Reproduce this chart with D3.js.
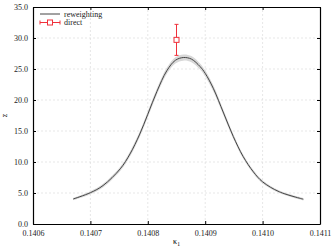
<!DOCTYPE html>
<html>
<head>
<meta charset="utf-8">
<script src="https://cdn.jsdelivr.net/npm/d3@7"></script>
<style>
  body { margin: 0; background: #fff; }
  text { font-family: "Liberation Serif", "DejaVu Serif", serif; }
  .grid line { stroke: #ddd; stroke-dasharray: 2,2; stroke-width: 0.7; }
</style>
</head>
<body>
<script>
// reweighting curve (kappa_1, z, error)
var kappaRew = [0.140670, 0.140700, 0.140722, 0.140752, 0.140769, 0.140786, 0.140800, 0.140816,
                0.140833, 0.140848, 0.140862, 0.140876, 0.140891, 0.140900, 0.140914, 0.140932, 0.140949,
                0.140966, 0.140984, 0.141000, 0.141029, 0.141071];
var zRew = [4.03, 5.05, 6.2, 8.9, 11.3, 14.5, 17.7, 21.4,
            24.7, 26.4, 26.85, 26.6, 25.4, 24.3, 21.9, 17.9, 14.1,
            10.9, 8.4, 6.8, 5.2, 4.0];
var zErr = [0.2, 0.25, 0.3, 0.35, 0.4, 0.45, 0.5, 0.5,
            0.5, 0.5, 0.5, 0.5, 0.5, 0.5, 0.5, 0.45, 0.4,
            0.35, 0.3, 0.25, 0.2, 0.2];

// direct measurement
var kappaDirect = [0.14085];
var zDirect = [29.7];
var zDirectErr = [2.5];

var xTicks = [0.1406, 0.1407, 0.1408, 0.1409, 0.1410, 0.1411];
var yTicks = [0, 5, 10, 15, 20, 25, 30, 35];

var width = 332, height = 249;
var margin = {left: 33, right: 12, top: 7, bottom: 25};

var svg = d3.select("body").append("svg")
    .attr("width", width)
    .attr("height", height);

var x = d3.scaleLinear().domain([0.1406, 0.1411]).range([margin.left, width - margin.right]);
var y = d3.scaleLinear().domain([0, 35]).range([height - margin.bottom, margin.top]);

//grid
var grid = svg.append("g").attr("class", "grid");
grid.selectAll(".gx").data(xTicks.slice(1, -1)).enter().append("line")
    .attr("x1", function(d){ return x(d); }).attr("x2", function(d){ return x(d); })
    .attr("y1", y(0)).attr("y2", y(35));
grid.selectAll(".gy").data(yTicks.slice(1, -1)).enter().append("line")
    .attr("y1", function(d){ return y(d); }).attr("y2", function(d){ return y(d); })
    .attr("x1", x(0.1406)).attr("x2", x(0.1411));

var pts = kappaRew.map(function(k, i){ return {k: k, z: zRew[i], e: zErr[i]}; });

//error band
var band = d3.area()
    .x(function(d){ return x(d.k); })
    .y0(function(d){ return y(d.z - d.e); })
    .y1(function(d){ return y(d.z + d.e); })
    .curve(d3.curveCatmullRom);
svg.append("path").datum(pts)
    .attr("d", band)
    .attr("fill", "#d8d8d8");

var line = d3.line()
    .x(function(d){ return x(d.k); })
    .y(function(d){ return y(d.z); })
    .curve(d3.curveCatmullRom);
svg.append("path").datum(pts)
    .attr("d", line)
    .attr("fill", "none")
    .attr("stroke", "#444")
    .attr("stroke-width", 1);

//direct point with error bar
var red = "#f0303a";
kappaDirect.forEach(function(k, i){
    var cx = x(k), cy = y(zDirect[i]);
    var lo = y(zDirect[i] - zDirectErr[i]), hi = y(zDirect[i] + zDirectErr[i]);
    var g = svg.append("g").attr("stroke", red).attr("fill", "none").attr("stroke-width", 1);
    g.append("line").attr("x1", cx).attr("x2", cx).attr("y1", lo).attr("y2", cy + 2.5);
    g.append("line").attr("x1", cx).attr("x2", cx).attr("y1", cy - 2.5).attr("y2", hi);
    g.append("line").attr("x1", cx - 2).attr("x2", cx + 2).attr("y1", lo).attr("y2", lo);
    g.append("line").attr("x1", cx - 2).attr("x2", cx + 2).attr("y1", hi).attr("y2", hi);
    g.append("rect").attr("x", cx - 2.5).attr("y", cy - 2.5).attr("width", 5).attr("height", 5);
});

//axes with inward ticks
var fmtX = d3.format(".4f"), fmtY = d3.format(".1f");
var axBottom = svg.append("g").attr("transform", "translate(0," + y(0) + ")")
    .call(d3.axisBottom(x).tickValues(xTicks).tickSizeInner(-3).tickSizeOuter(0).tickPadding(6).tickFormat(fmtX));
var axLeft = svg.append("g").attr("transform", "translate(" + x(0.1406) + ",0)")
    .call(d3.axisLeft(y).tickValues(yTicks).tickSizeInner(-3).tickSizeOuter(0).tickPadding(5).tickFormat(fmtY));
var axTop = svg.append("g").attr("transform", "translate(0," + y(35) + ")")
    .call(d3.axisTop(x).tickValues(xTicks).tickSizeInner(-3).tickSizeOuter(0).tickFormat(""));
var axRight = svg.append("g").attr("transform", "translate(" + x(0.1411) + ",0)")
    .call(d3.axisRight(y).tickValues(yTicks).tickSizeInner(-3).tickSizeOuter(0).tickFormat(""));

[axBottom, axLeft, axTop, axRight].forEach(function(a){
    a.select(".domain").attr("stroke", "#000").attr("stroke-width", 1.2);
    a.selectAll(".tick line").attr("stroke", "#000");
    a.selectAll("text").attr("font-family", "Liberation Serif").attr("font-size", 8).attr("fill", "#222");
});

//axis labels
svg.append("text")
    .attr("transform", "translate(7," + ((y(0) + y(35)) / 2) + ") rotate(-90)")
    .attr("text-anchor", "middle")
    .attr("font-size", 8)
    .text("z");
var xl = svg.append("text")
    .attr("x", (x(0.1406) + x(0.1411)) / 2)
    .attr("y", 244)
    .attr("text-anchor", "middle")
    .attr("font-size", 8);
xl.append("tspan").text("κ");
xl.append("tspan").attr("font-size", 5.5).attr("dy", 2).text("1");

//legend
var lg = svg.append("g");
lg.append("line").attr("x1", 40).attr("x2", 60).attr("y1", 14).attr("y2", 14)
    .attr("stroke", "#444").attr("stroke-width", 1);
lg.append("text").attr("x", 64).attr("y", 16.5).attr("font-size", 8).attr("fill", "#222").text("reweighting");
var ld = lg.append("g").attr("stroke", red).attr("fill", "none");
ld.append("line").attr("x1", 40).attr("x2", 47.5).attr("y1", 22.5).attr("y2", 22.5);
ld.append("line").attr("x1", 52.5).attr("x2", 60).attr("y1", 22.5).attr("y2", 22.5);
ld.append("line").attr("x1", 40).attr("x2", 40).attr("y1", 20.5).attr("y2", 24.5);
ld.append("line").attr("x1", 60).attr("x2", 60).attr("y1", 20.5).attr("y2", 24.5);
ld.append("rect").attr("x", 47.5).attr("y", 20).attr("width", 5).attr("height", 5);
lg.append("text").attr("x", 64).attr("y", 25).attr("font-size", 8).attr("fill", "#222").text("direct");
</script>
</body>
</html>
